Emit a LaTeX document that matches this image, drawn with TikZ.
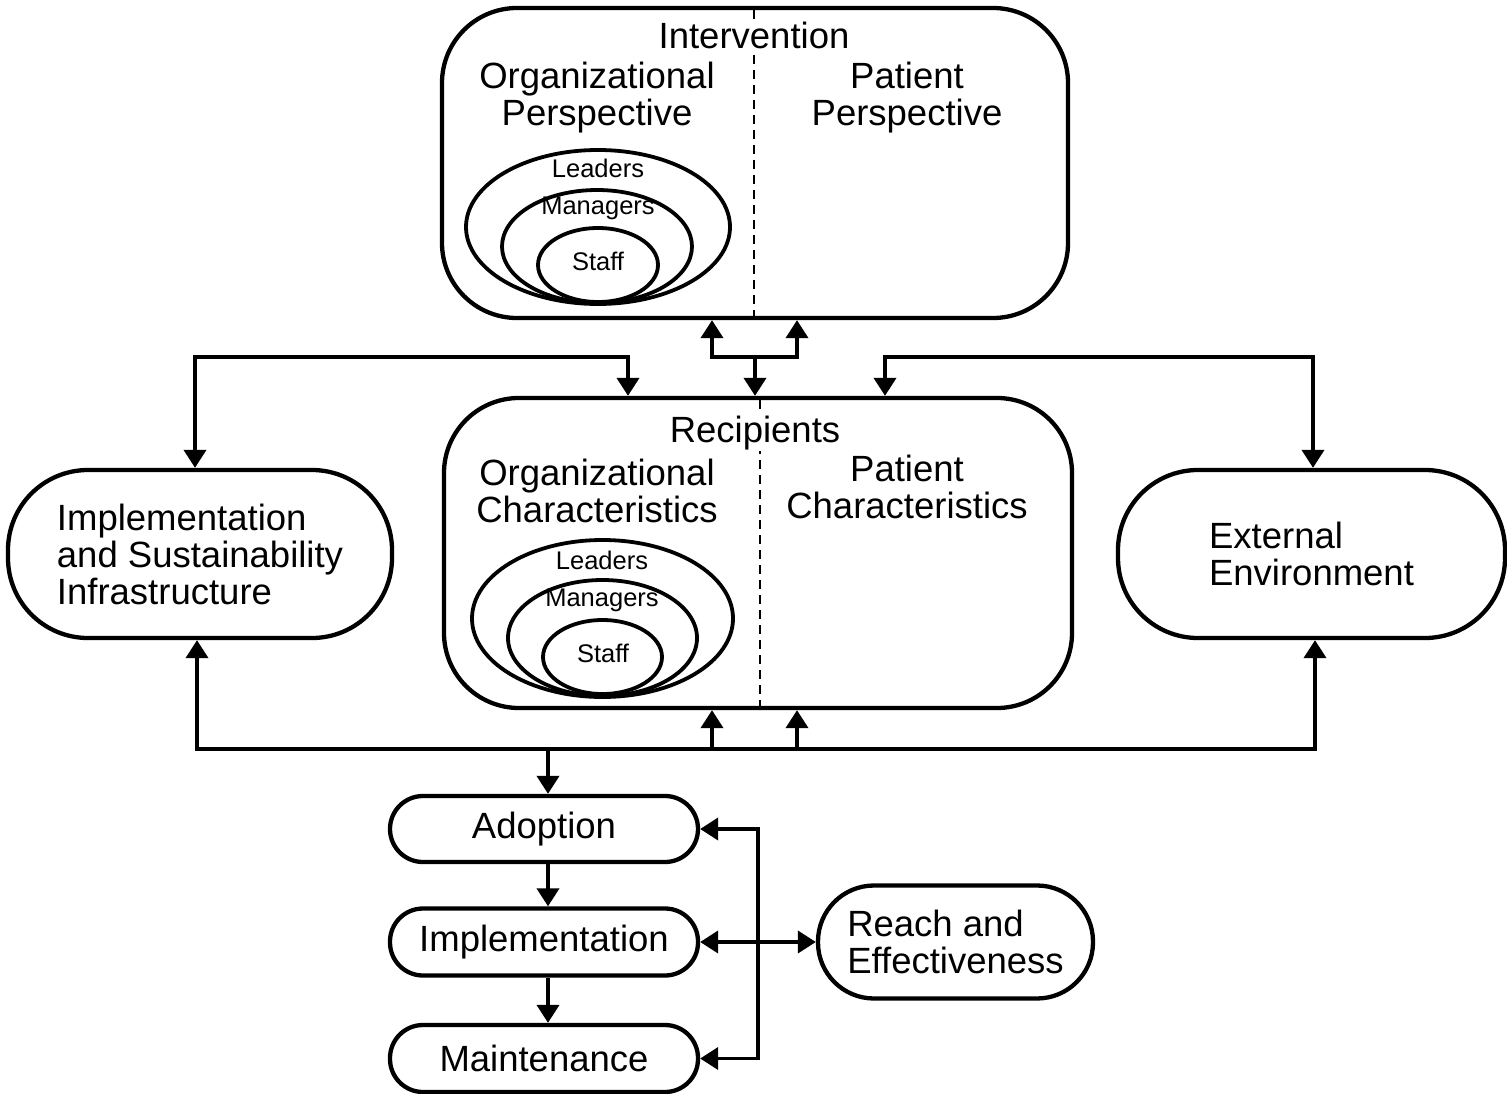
\documentclass[tikz,border=0pt]{standalone}
\usepackage{fontspec}
\setmainfont{Liberation Sans}
\usetikzlibrary{arrows.meta,shapes.geometric}
\begin{document}
\begin{tikzpicture}[x=1pt,y=-1pt,
  box/.style={draw, line width=4.3pt, rounded corners=#1, inner sep=0pt},
  bigtxt/.style={font=\fontsize{36.5}{37}\selectfont, inner sep=0pt, align=center},
  smalltxt/.style={font=\fontsize{25.5}{26}\selectfont, inner sep=0pt},
  ring/.style={draw, ellipse, line width=3.8pt, inner sep=0pt},
  divider/.style={line width=1.8pt, dash pattern=on 9pt off 6pt},
  conn/.style={line width=3.8pt},
  >={Triangle[length=18pt,width=22pt]}]
\useasboundingbox (0,0) rectangle (1507,1094);

% ---- Intervention ----
\node[box=75pt, minimum width=626pt, minimum height=310pt] (int) at (755,163) {};
\draw[divider] (754,10) -- (754,316);
\node[bigtxt, fill=white, inner sep=1pt] (intT) at (754,35) {Intervention};
\node[bigtxt] (intO) at (597,98) {Organizational\\Perspective};
\node[bigtxt] (intP) at (907,98) {Patient\\Perspective};
\node[ring, minimum width=264pt, minimum height=154pt] (intL) at (598,227) {};
\node[ring, minimum width=190pt, minimum height=113pt] (intM) at (597,246.5) {};
\node[ring, minimum width=120pt, minimum height=74pt] (intS) at (598,265) {};
\node[smalltxt] (intLt) at (598,168) {Leaders};
\node[smalltxt] (intMt) at (598,208) {Managers};
\node[smalltxt] (intSt) at (598,261) {Staff};

% ---- Recipients ----
\node[box=75pt, minimum width=628pt, minimum height=310pt] (rec) at (758,553) {};
\draw[divider] (760,400) -- (760,706);
\node[bigtxt, fill=white, inner sep=1pt] (recT) at (755,433) {Recipients};
\node[bigtxt] (recO) at (597,491) {Organizational\\Characteristics};
\node[bigtxt] (recP) at (907,487) {Patient\\Characteristics};
\node[ring, minimum width=261pt, minimum height=157pt] (recL) at (602.5,618.5) {};
\node[ring, minimum width=189pt, minimum height=116pt] (recM) at (602.5,638) {};
\node[ring, minimum width=119pt, minimum height=74pt] (recS) at (602.5,657) {};
\node[smalltxt] (recLt) at (602,560) {Leaders};
\node[smalltxt] (recMt) at (602,600) {Managers};
\node[smalltxt] (recSt) at (603,653) {Staff};

% ---- side boxes ----
\node[box=80pt, bigtxt, align=left, minimum width=384pt, minimum height=168pt] (infra) at (200,554)
  {Implementation\\and Sustainability\\Infrastructure};
\node[box=80pt, bigtxt, align=left, minimum width=387pt, minimum height=168pt] (ext) at (1311.5,554)
  {External\\Environment};

% ---- RE-AIM stages ----
\node[box=33pt, bigtxt, minimum width=308pt, minimum height=66pt] (adopt) at (544,829) {Adoption};
\node[box=33pt, bigtxt, minimum width=308pt, minimum height=67pt] (impl) at (544,942) {Implementation};
\node[box=33pt, bigtxt, minimum width=308pt, minimum height=67pt] (maint) at (544,1058.5) {Maintenance};
\node[box=56pt, bigtxt, align=left, minimum width=275pt, minimum height=113pt] (reach) at (955.5,942)
  {Reach and\\Effectiveness};

% ---- junction points ----
\coordinate (ia) at (712,357);
\coordinate (ib) at (797,357);
\coordinate (ic) at (755,357);
\coordinate (lt) at (628,357);
\coordinate (lc) at (195,357);
\coordinate (rt) at (885,357);
\coordinate (rc) at (1313,357);
\coordinate (bl) at (197,749);
\coordinate (br) at (1315,749);
\coordinate (ba) at (712,749);
\coordinate (bb) at (797,749);
\coordinate (dn) at (548,749);
\coordinate (fx) at (758,0);

% ---- connectors ----
\draw[conn,<->] (int.south -| ia) -- (ia) -- (ib) -- (int.south -| ib);
\draw[conn,->] (ic) -- (ic |- rec.north);
\draw[conn,<->] (lt |- rec.north) -- (lt) -- (lc) -- (lc |- infra.north);
\draw[conn,<->] (rt |- rec.north) -- (rt) -- (rc) -- (rc |- ext.north);
\draw[conn,<->] (bl |- infra.south) -- (bl) -- (br) -- (br |- ext.south);
\draw[conn,->] (ba) -- (ba |- rec.south);
\draw[conn,->] (bb) -- (bb |- rec.south);
\draw[conn,->] (dn) -- (dn |- adopt.north);
\draw[conn,->] (dn |- adopt.south) -- (dn |- impl.north);
\draw[conn,->] (dn |- impl.south) -- (dn |- maint.north);
\draw[conn,<->] (adopt.east) -- (adopt.east -| fx) -- (maint.east -| fx) -- (maint.east);
\draw[conn,<->] (impl.east) -- (impl.east -| reach.west);
\end{tikzpicture}
\end{document}
